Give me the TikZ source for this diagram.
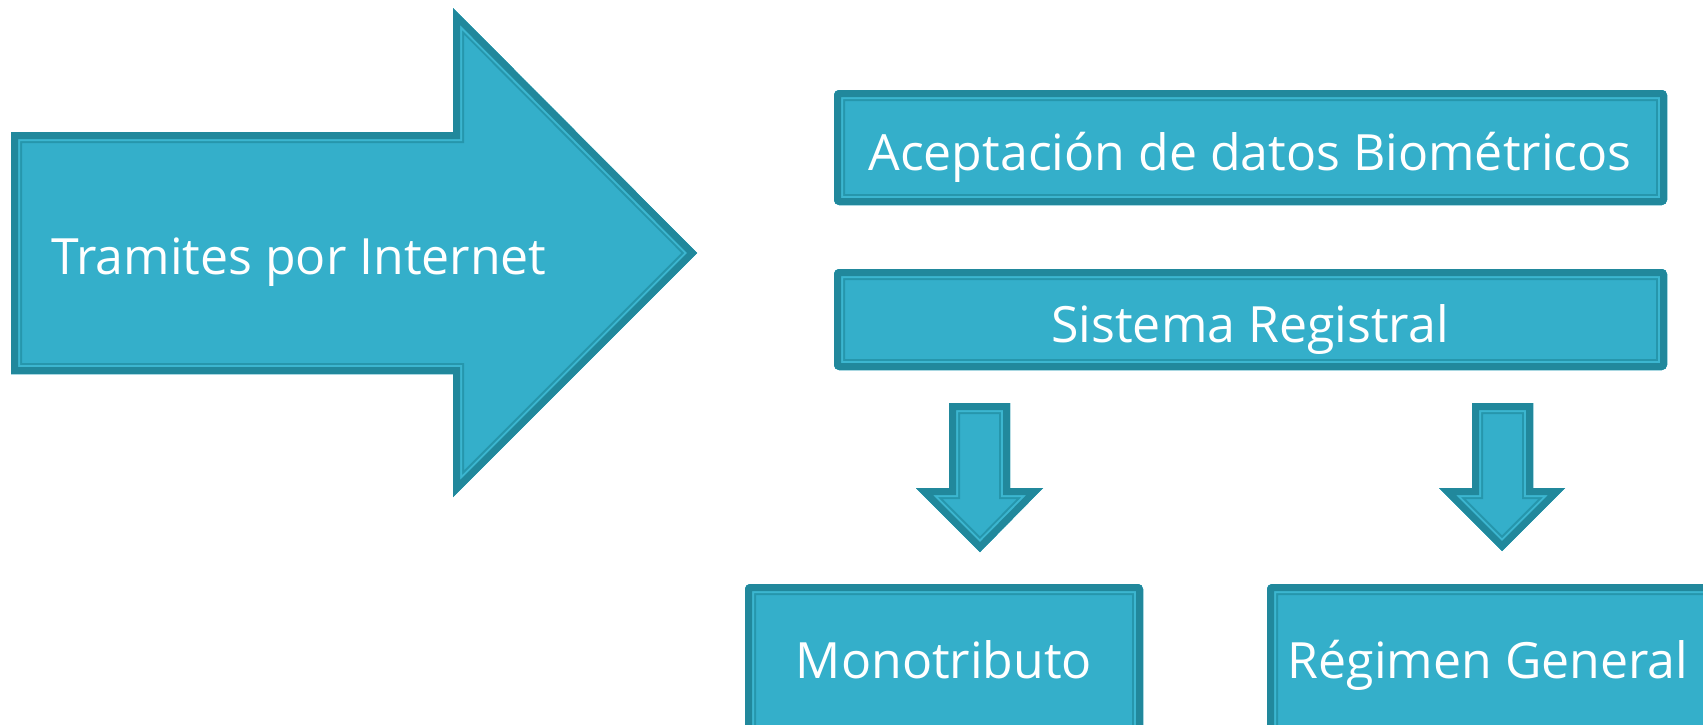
\documentclass[tikz,border=0pt]{standalone}
\usepackage{fontspec}
\setmainfont{Open Sans}
\definecolor{fillc}{RGB}{52,175,202}
\definecolor{dk}{RGB}{33,136,156}
\definecolor{lt}{RGB}{60,182,208}
\definecolor{mid}{RGB}{38,150,172}
\newcommand\fancyshape[1]{%
  \begin{scope}
    \clip #1;
    \fill[fillc] #1;
    \draw[mid, line width=22pt, line join=miter] #1;
    \draw[lt, line width=18pt, line join=miter] #1;
    \draw[dk, line width=14pt, line join=miter] #1;
  \end{scope}}
\tikzset{lbl/.style={text=white, font=\fontsize{50}{60}\selectfont, inner sep=0pt}}
\begin{document}
\begin{tikzpicture}[x=1pt,y=-1pt]
\useasboundingbox (0,0) rectangle (1703,724);
\clip (0,0) rectangle (1703,724);
% big arrow
\fancyshape{(11,132) -- (453,132) -- (453,8) -- (697,253) -- (453,497) -- (453,374) -- (11,374) -- cycle}
\node[lbl, anchor=base west] (t1) at (51,274) {Tramites por Internet};
% boxes
\fancyshape{[rounded corners=5pt] (834,90) rectangle (1667,205)}
\node[lbl, anchor=base] (b1) at (1250,170) {Aceptación de datos Biométricos};
\fancyshape{[rounded corners=5pt] (834,269) rectangle (1667,370)}
\node[lbl, anchor=base] (b2) at (1250,342) {Sistema Registral};
\fancyshape{[rounded corners=5pt] (745,584) rectangle (1143,740)}
\node[lbl, anchor=base] (b3) at (944,678) {Monotributo};
\fancyshape{[rounded corners=5pt] (1267,584) rectangle (1715,740)}
\node[lbl, anchor=base] (b4) at (1488,678) {Régimen General};
% small arrows
\fancyshape{(949,403) -- (1010,403) -- (1010,488) -- (1043,488) -- (980,552) -- (916,488) -- (949,488) -- cycle}
\fancyshape{(1472,403) -- (1533,403) -- (1533,488) -- (1565,488) -- (1502,551) -- (1439,488) -- (1472,488) -- cycle}
\end{tikzpicture}
\end{document}
